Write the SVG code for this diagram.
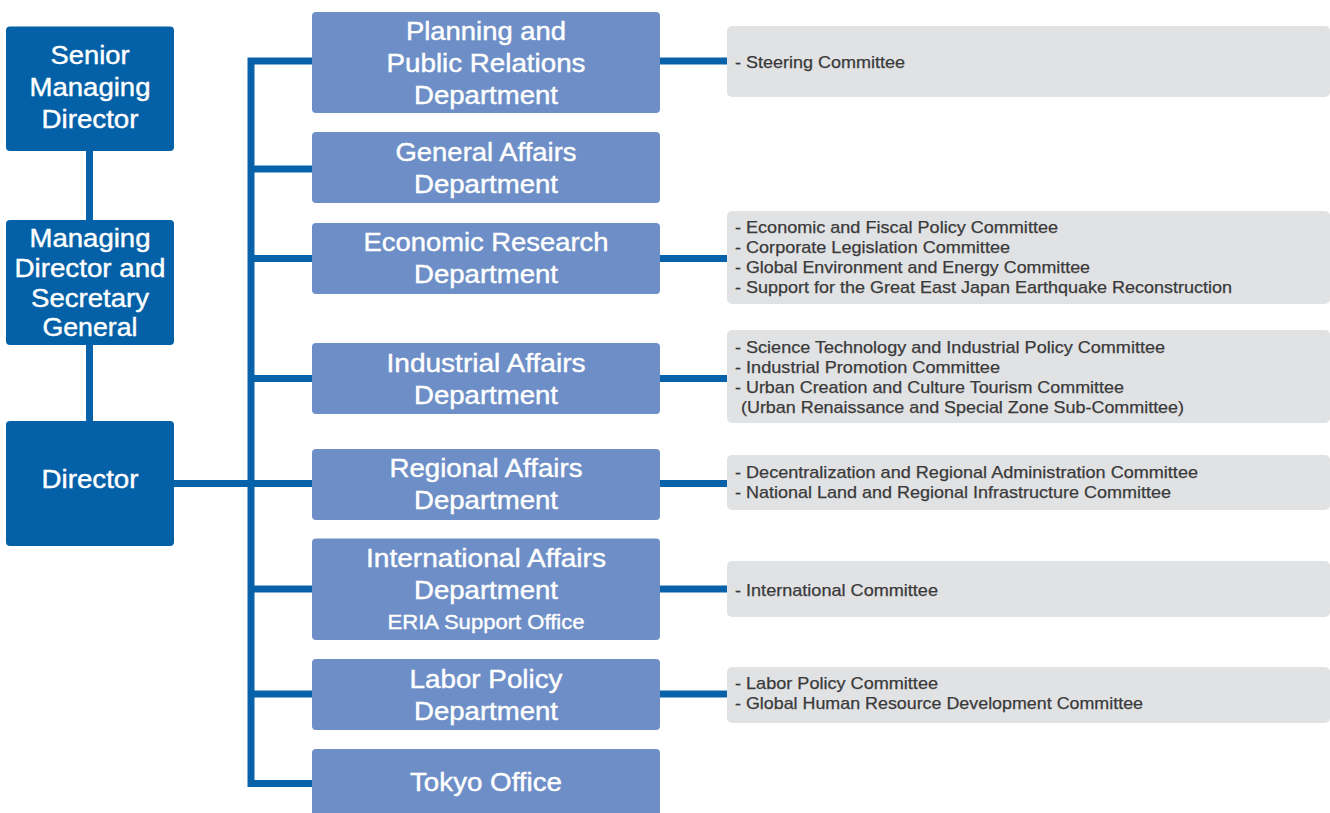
<svg xmlns="http://www.w3.org/2000/svg" width="1330" height="813" viewBox="0 0 1330 813">
<style>
.exec{fill:#0461A8}
.dept{fill:#6D8EC6}
.comm{fill:#E1E2E4}
.wt{font-family:"Liberation Sans",Arial,sans-serif;fill:#fff;stroke:#fff;stroke-width:0.4;font-size:25px;text-anchor:middle}
.sm{font-size:21px}
.ct{font-family:"Liberation Sans",Arial,sans-serif;fill:#3A3A3A;stroke:#3A3A3A;stroke-width:0.25;font-size:17px}
.ln{stroke:#0862AA;stroke-width:7;fill:none;stroke-linejoin:miter}
</style>
<rect width="1330" height="813" fill="#fff"/>
<g id="connectors">
<path class="ln" d="M89.5,151 V421"/>
<path class="ln" d="M312,61 H251 V783.5 H312"/>
<path class="ln" d="M174,483.5 H312"/>
<path class="ln" d="M251,169 H312 M251,258.5 H312 M251,378.5 H312 M251,589 H312 M251,694 H312"/>
<path class="ln" d="M660,61 H727 M660,258.5 H727 M660,378.5 H727 M660,483.5 H727 M660,589 H727 M660,694 H727"/>
</g>
<g id="senior">
<rect class="exec" x="6" y="26.5" width="168" height="124.5" rx="4"/>
<text class="wt"><tspan x="90" y="63.5" textLength="79" lengthAdjust="spacingAndGlyphs">Senior</tspan><tspan x="90" y="95.5" textLength="121" lengthAdjust="spacingAndGlyphs">Managing</tspan><tspan x="90" y="127.5" textLength="97" lengthAdjust="spacingAndGlyphs">Director</tspan></text>
</g>
<g id="managing">
<rect class="exec" x="6" y="220" width="168" height="125" rx="4"/>
<text class="wt"><tspan x="90" y="247" textLength="121" lengthAdjust="spacingAndGlyphs">Managing</tspan><tspan x="90" y="277" textLength="151" lengthAdjust="spacingAndGlyphs">Director and</tspan><tspan x="90" y="306.5" textLength="118" lengthAdjust="spacingAndGlyphs">Secretary</tspan><tspan x="90" y="335.5" textLength="95" lengthAdjust="spacingAndGlyphs">General</tspan></text>
</g>
<g id="director">
<rect class="exec" x="6" y="421" width="168" height="125" rx="4"/>
<text class="wt" x="90" y="488" textLength="97" lengthAdjust="spacingAndGlyphs">Director</text>
</g>
<g id="planning">
<rect class="dept" x="312" y="12" width="348" height="101" rx="4"/>
<text class="wt"><tspan x="486" y="40" textLength="160" lengthAdjust="spacingAndGlyphs">Planning and</tspan><tspan x="486" y="72" textLength="199" lengthAdjust="spacingAndGlyphs">Public Relations</tspan><tspan x="486" y="103.5" textLength="144" lengthAdjust="spacingAndGlyphs">Department</tspan></text>
</g>
<g id="general">
<rect class="dept" x="312" y="132" width="348" height="71" rx="4"/>
<text class="wt"><tspan x="486" y="161" textLength="181" lengthAdjust="spacingAndGlyphs">General Affairs</tspan><tspan x="486" y="193" textLength="144" lengthAdjust="spacingAndGlyphs">Department</tspan></text>
</g>
<g id="economic">
<rect class="dept" x="312" y="223" width="348" height="71" rx="4"/>
<text class="wt"><tspan x="486" y="251" textLength="245" lengthAdjust="spacingAndGlyphs">Economic Research</tspan><tspan x="486" y="283" textLength="144" lengthAdjust="spacingAndGlyphs">Department</tspan></text>
</g>
<g id="industrial">
<rect class="dept" x="312" y="343" width="348" height="71" rx="4"/>
<text class="wt"><tspan x="486" y="371.5" textLength="199" lengthAdjust="spacingAndGlyphs">Industrial Affairs</tspan><tspan x="486" y="403.5" textLength="144" lengthAdjust="spacingAndGlyphs">Department</tspan></text>
</g>
<g id="regional">
<rect class="dept" x="312" y="449" width="348" height="71" rx="4"/>
<text class="wt"><tspan x="486" y="476.5" textLength="193" lengthAdjust="spacingAndGlyphs">Regional Affairs</tspan><tspan x="486" y="508.5" textLength="144" lengthAdjust="spacingAndGlyphs">Department</tspan></text>
</g>
<g id="international">
<rect class="dept" x="312" y="538.5" width="348" height="101.5" rx="4"/>
<text class="wt"><tspan x="486" y="567" textLength="240" lengthAdjust="spacingAndGlyphs">International Affairs</tspan><tspan x="486" y="599" textLength="144" lengthAdjust="spacingAndGlyphs">Department</tspan></text>
<text class="wt sm" x="486" y="629" textLength="197" lengthAdjust="spacingAndGlyphs">ERIA Support Office</text>
</g>
<g id="labor">
<rect class="dept" x="312" y="659" width="348" height="71" rx="4"/>
<text class="wt"><tspan x="486" y="687.5" textLength="153" lengthAdjust="spacingAndGlyphs">Labor Policy</tspan><tspan x="486" y="719.5" textLength="144" lengthAdjust="spacingAndGlyphs">Department</tspan></text>
</g>
<g id="tokyo">
<rect class="dept" x="312" y="749" width="348" height="80" rx="4"/>
<text class="wt" x="486" y="790.5" textLength="152" lengthAdjust="spacingAndGlyphs">Tokyo Office</text>
</g>
<g id="c-planning">
<rect class="comm" x="727" y="26" width="603" height="71" rx="5"/>
<text class="ct" x="735" y="68" textLength="170" lengthAdjust="spacingAndGlyphs">- Steering Committee</text>
</g>
<g id="c-economic">
<rect class="comm" x="727" y="211" width="603" height="93" rx="5"/>
<text class="ct"><tspan x="735" y="233" textLength="323" lengthAdjust="spacingAndGlyphs">- Economic and Fiscal Policy Committee</tspan><tspan x="735" y="253" textLength="275" lengthAdjust="spacingAndGlyphs">- Corporate Legislation Committee</tspan><tspan x="735" y="273" textLength="355" lengthAdjust="spacingAndGlyphs">- Global Environment and Energy Committee</tspan><tspan x="735" y="293" textLength="497" lengthAdjust="spacingAndGlyphs">- Support for the Great East Japan Earthquake Reconstruction</tspan></text>
</g>
<g id="c-industrial">
<rect class="comm" x="727" y="330" width="603" height="93" rx="5"/>
<text class="ct"><tspan x="735" y="352.5" textLength="430" lengthAdjust="spacingAndGlyphs">- Science Technology and Industrial Policy Committee</tspan><tspan x="735" y="372.5" textLength="265" lengthAdjust="spacingAndGlyphs">- Industrial Promotion Committee</tspan><tspan x="735" y="392.5" textLength="389" lengthAdjust="spacingAndGlyphs">- Urban Creation and Culture Tourism Committee</tspan><tspan x="741" y="412.5" textLength="443" lengthAdjust="spacingAndGlyphs">(Urban Renaissance and Special Zone Sub-Committee)</tspan></text>
</g>
<g id="c-regional">
<rect class="comm" x="727" y="455" width="603" height="55" rx="5"/>
<text class="ct"><tspan x="735" y="478" textLength="463" lengthAdjust="spacingAndGlyphs">- Decentralization and Regional Administration Committee</tspan><tspan x="735" y="498" textLength="436" lengthAdjust="spacingAndGlyphs">- National Land and Regional Infrastructure Committee</tspan></text>
</g>
<g id="c-international">
<rect class="comm" x="727" y="561" width="603" height="56" rx="5"/>
<text class="ct" x="735" y="596" textLength="203" lengthAdjust="spacingAndGlyphs">- International Committee</text>
</g>
<g id="c-labor">
<rect class="comm" x="727" y="667" width="603" height="56" rx="5"/>
<text class="ct"><tspan x="735" y="689" textLength="203" lengthAdjust="spacingAndGlyphs">- Labor Policy Committee</tspan><tspan x="735" y="709" textLength="408" lengthAdjust="spacingAndGlyphs">- Global Human Resource Development Committee</tspan></text>
</g>
</svg>
